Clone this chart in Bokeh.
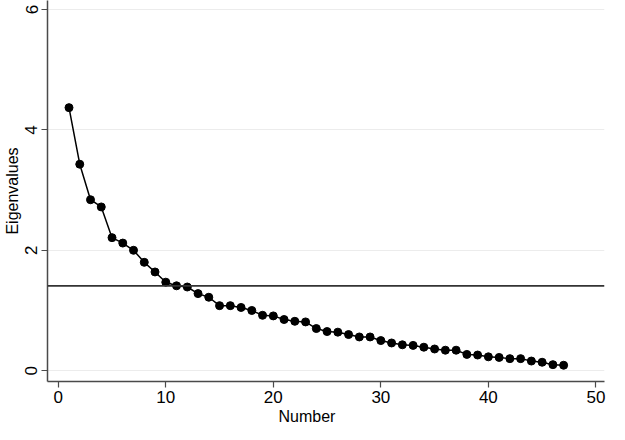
from bokeh.plotting import figure
from bokeh.models import Span, FixedTicker, Range1d, Title
from bokeh.embed import file_html
from bokeh.resources import INLINE

number = list(range(1, 48))
eigenvalues = [4.37, 3.43, 2.84, 2.72, 2.21, 2.12, 2.00, 1.80, 1.64, 1.47,
               1.41, 1.39, 1.28, 1.22, 1.08, 1.08, 1.05, 1.00, 0.92, 0.91,
               0.85, 0.82, 0.81, 0.70, 0.65, 0.64, 0.60, 0.56, 0.56, 0.50,
               0.46, 0.43, 0.42, 0.39, 0.36, 0.34, 0.34, 0.27, 0.26, 0.23,
               0.22, 0.20, 0.20, 0.16, 0.14, 0.10, 0.09]
threshold = 1.41
x_ticks = [0, 10, 20, 30, 40, 50]
y_ticks = [0, 2, 4, 6]
x_title = "Number"
y_title = "Eigenvalues"

FONT = "Liberation Sans"
AX = "#4a4a4a"

p = figure(width=609, height=424, output_backend="svg", toolbar_location=None,
           x_range=Range1d(-1.0, 50.8), y_range=Range1d(-0.18, 6.15),
           min_border_left=10, min_border_right=5, min_border_top=0,
           min_border_bottom=0)
p.outline_line_color = None
p.background_fill_color = "white"
p.border_fill_color = "white"

p.xgrid.grid_line_color = None
p.ygrid.grid_line_color = "#ececec"
p.ygrid.grid_line_width = 1
p.ygrid.ticker = FixedTicker(ticks=y_ticks)

p.xaxis.ticker = FixedTicker(ticks=x_ticks)
p.yaxis.ticker = FixedTicker(ticks=y_ticks)
p.yaxis.axis_label = y_title
for ax in (p.xaxis, p.yaxis):
    ax.axis_line_color = AX
    ax.axis_line_width = 1.5
    ax.major_tick_line_color = AX
    ax.major_tick_line_width = 1.2
    ax.major_tick_out = 6
    ax.major_tick_in = 0
    ax.minor_tick_line_color = None
    ax.major_label_text_font = FONT
    ax.major_label_text_font_size = "17px"
    ax.major_label_text_color = "black"
    ax.major_label_text_line_height = 0.9
    ax.axis_label_text_font = FONT
    ax.axis_label_text_font_size = "16px"
    ax.axis_label_text_font_style = "normal"
    ax.axis_label_text_color = "black"
p.xaxis.major_label_standoff = 3
p.yaxis.major_label_standoff = 4
p.yaxis.axis_label_standoff = 2
p.yaxis.major_label_orientation = "vertical"

# x-axis title: a below-panel title, slightly left of the frame centre as in the original
p.add_layout(Title(text=x_title, align="left", offset=231, standoff=0,
                   text_font=FONT, text_font_size="16px", text_line_height=0.9,
                   text_font_style="normal", text_color="black"), "below")

p.add_layout(Span(location=threshold, dimension="width", line_color="#333333",
                  line_width=1.8))

p.line(number, eigenvalues, line_color="black", line_width=1.5)
p.scatter(number, eigenvalues, size=8, fill_color="black", line_color="black")

open("out.html", "w").write(file_html(p, INLINE))
